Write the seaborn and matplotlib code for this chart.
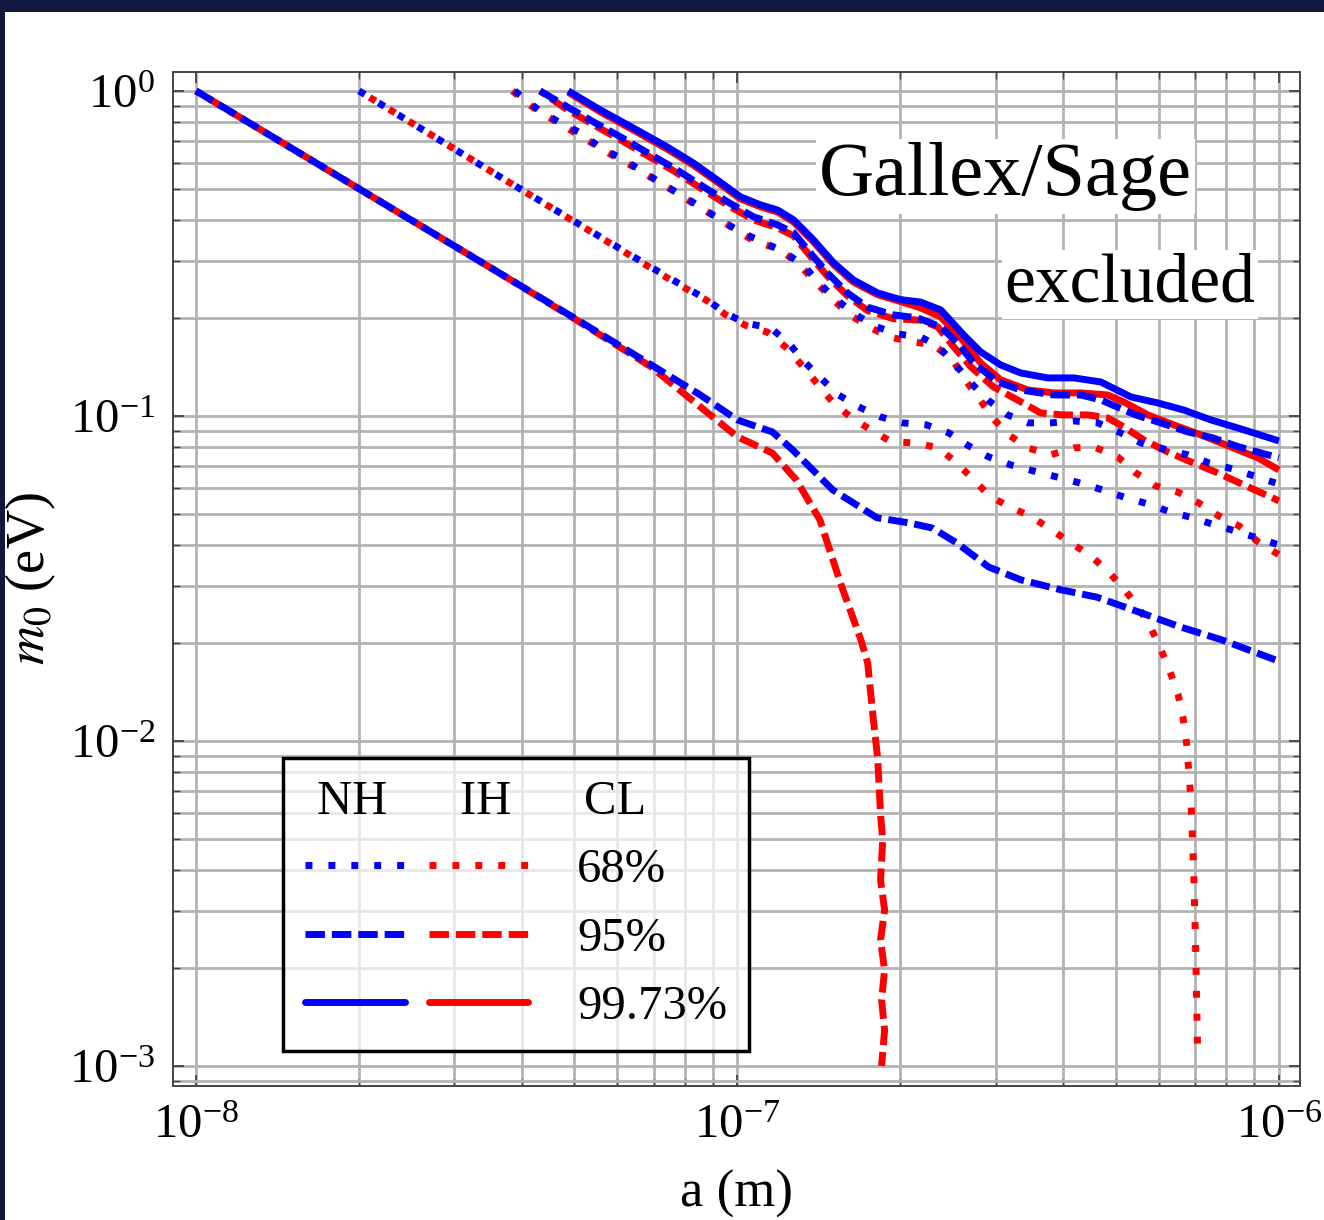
import numpy as np
import pandas as pd
import matplotlib
matplotlib.use("Agg")
import matplotlib.pyplot as plt
import seaborn as sns
from matplotlib.lines import Line2D
from matplotlib.legend_handler import HandlerTuple
from matplotlib.patches import Rectangle
from matplotlib.ticker import LogLocator, NullFormatter

# ---------------------------------------------------------------------------
# Exclusion contours: plate separation a (m) versus lightest neutrino mass m0 (eV)
# ---------------------------------------------------------------------------

# Lower branches
nh95_lo_a = [1.0e-8, 2.0e-8, 3.65e-8, 5.0e-8, 6.91e-8, 8.54e-8, 1.0e-7, 1.16e-7, 1.265e-7,
             1.50e-7, 1.81e-7, 2.07e-7, 2.29e-7, 2.54e-7, 2.91e-7, 3.34e-7, 3.95e-7,
             4.61e-7, 5.56e-7, 6.59e-7, 7.82e-7, 1.0e-6]
nh95_lo_m = [1.0, 0.5, 0.274, 0.2, 0.144, 0.116, 0.0972, 0.0893, 0.0786,
             0.0592, 0.0486, 0.0469, 0.0452, 0.0407, 0.0343, 0.0313, 0.0292,
             0.0277, 0.0248, 0.0224, 0.0205, 0.0176]

ih95_lo_a = [1.0e-8, 2.0e-8, 3.65e-8, 5.0e-8, 6.91e-8, 8.54e-8, 1.0e-7, 1.16e-7, 1.285e-7,
             1.42e-7, 1.55e-7, 1.69e-7, 1.74e-7, 1.78e-7, 1.815e-7, 1.84e-7, 1.855e-7,
             1.838e-7, 1.87e-7, 1.838e-7, 1.87e-7, 1.846e-7, 1.87e-7, 1.846e-7]
ih95_lo_m = [1.0, 0.5, 0.274, 0.199, 0.142, 0.1066, 0.0862, 0.0769, 0.0635,
             0.0479, 0.0306, 0.0205, 0.0174, 0.0119, 0.0089, 0.0058, 0.00496,
             0.00373, 0.00302, 0.00244, 0.00197, 0.0016, 0.00129, 0.001]

nh68_lo_a = [2.0e-8, 3.65e-8, 5.70e-8, 7.36e-8, 8.80e-8, 9.50e-8, 1.035e-7, 1.151e-7, 1.243e-7,
             1.33e-7, 1.424e-7, 1.537e-7, 1.674e-7, 1.838e-7, 2.018e-7, 2.236e-7, 2.455e-7,
             2.673e-7, 2.911e-7, 3.196e-7, 3.525e-7, 3.887e-7, 4.287e-7, 4.727e-7, 5.17e-7,
             5.73e-7, 6.29e-7, 6.93e-7, 7.61e-7, 8.40e-7, 9.26e-7, 1.0e-6]
nh68_lo_m = [1.0, 0.543, 0.348, 0.27, 0.2275, 0.207, 0.193, 0.1866, 0.1678,
             0.1466, 0.1309, 0.116, 0.1066, 0.0993, 0.0952, 0.0938, 0.0887,
             0.0809, 0.0748, 0.0707, 0.0677, 0.0649, 0.0622, 0.0592, 0.0563,
             0.0536, 0.0507, 0.0486, 0.0462, 0.044, 0.0418, 0.0401]

ih68_lo_a = [2.0e-8, 3.65e-8, 5.70e-8, 7.36e-8, 8.80e-8, 9.50e-8, 1.035e-7, 1.136e-7, 1.227e-7,
             1.319e-7, 1.40e-7, 1.498e-7, 1.618e-7, 1.762e-7, 1.926e-7, 2.133e-7, 2.352e-7,
             2.54e-7, 2.72e-7, 2.923e-7, 3.183e-7, 3.495e-7, 3.806e-7, 4.126e-7, 4.494e-7,
             4.85e-7, 5.17e-7, 5.51e-7, 5.80e-7, 6.05e-7, 6.29e-7, 6.51e-7, 6.65e-7,
             6.76e-7, 6.88e-7, 6.96e-7, 7.02e-7, 7.08e-7]
ih68_lo_m = [1.0, 0.543, 0.347, 0.268, 0.226, 0.205, 0.19, 0.181, 0.163,
             0.1425, 0.1263, 0.1104, 0.0993, 0.0906, 0.0832, 0.0826, 0.0797,
             0.0717, 0.064, 0.0567, 0.0525, 0.0489, 0.0446, 0.0407, 0.0371,
             0.0331, 0.0294, 0.0257, 0.0223, 0.0192, 0.0164, 0.01395, 0.01185,
             0.00972, 0.00658, 0.00401, 0.00228, 0.0011]

# Upper branches
nh68_up_a = [3.88e-8, 4.29e-8, 4.67e-8, 5.13e-8, 5.58e-8, 6.08e-8, 6.62e-8, 7.21e-8, 7.85e-8,
             8.54e-8, 9.30e-8, 1.013e-7, 1.113e-7, 1.216e-7, 1.324e-7, 1.412e-7, 1.518e-7,
             1.646e-7, 1.792e-7, 1.968e-7, 2.179e-7, 2.343e-7, 2.53e-7, 2.70e-7, 2.90e-7,
             3.156e-7, 3.44e-7, 3.79e-7, 4.18e-7, 4.63e-7, 5.10e-7, 5.56e-7, 6.13e-7,
             6.79e-7, 7.42e-7, 8.22e-7, 8.99e-7, 1.0e-6]
nh68_up_m = [1.0, 0.874, 0.803, 0.743, 0.668, 0.622, 0.571, 0.521, 0.479,
             0.44, 0.401, 0.368, 0.343, 0.32, 0.291, 0.257, 0.229,
             0.206, 0.189, 0.1788, 0.175, 0.1642, 0.1435, 0.1263, 0.112,
             0.1007, 0.0952, 0.0952, 0.0965, 0.0952, 0.0887, 0.0826, 0.0791,
             0.0759, 0.0717, 0.0687, 0.0654, 0.0617]

ih68_up_a = [3.84e-8, 4.18e-8, 4.57e-8, 4.98e-8, 5.46e-8, 5.95e-8, 6.48e-8, 7.05e-8, 7.68e-8,
             8.36e-8, 9.11e-8, 9.92e-8, 1.08e-7, 1.19e-7, 1.291e-7, 1.382e-7, 1.486e-7,
             1.597e-7, 1.739e-7, 1.902e-7, 2.107e-7, 2.303e-7, 2.50e-7, 2.617e-7, 2.79e-7,
             2.96e-7, 3.17e-7, 3.44e-7, 3.79e-7, 4.18e-7, 4.55e-7, 5.04e-7, 5.44e-7,
             5.92e-7, 6.51e-7, 7.11e-7, 7.75e-7, 8.44e-7, 9.15e-7, 1.0e-6]
ih68_up_m = [1.0, 0.893, 0.814, 0.748, 0.682, 0.626, 0.58, 0.532, 0.489,
             0.446, 0.41, 0.374, 0.343, 0.327, 0.296, 0.262, 0.232,
             0.207, 0.189, 0.175, 0.169, 0.1654, 0.1487, 0.1309, 0.1136,
             0.0986, 0.0874, 0.0797, 0.0759, 0.0797, 0.0803, 0.0748, 0.0668,
             0.0609, 0.0583, 0.054, 0.0492, 0.0459, 0.041, 0.0374]

nh95_up_a = [4.32e-8, 4.85e-8, 5.42e-8, 6.08e-8, 6.82e-8, 7.62e-8, 8.54e-8, 9.58e-8, 1.07e-7,
             1.186e-7, 1.27e-7, 1.364e-7, 1.467e-7, 1.597e-7, 1.739e-7, 1.943e-7, 2.15e-7,
             2.373e-7, 2.55e-7, 2.73e-7, 3.025e-7, 3.335e-7, 3.84e-7, 4.305e-7, 4.688e-7,
             5.44e-7, 6.05e-7, 6.79e-7, 7.55e-7, 8.44e-7, 1.0e-6]
nh95_up_m = [1.0, 0.893, 0.803, 0.722, 0.645, 0.58, 0.514, 0.456, 0.41,
             0.387, 0.366, 0.317, 0.275, 0.239, 0.216, 0.2046, 0.2003,
             0.188, 0.1678, 0.1456, 0.1272, 0.1202, 0.116, 0.116, 0.112,
             0.1007, 0.0952, 0.0893, 0.0856, 0.0803, 0.0743]

ih95_up_a = [4.32e-8, 4.85e-8, 5.42e-8, 6.08e-8, 6.82e-8, 7.62e-8, 8.54e-8, 9.58e-8, 1.07e-7,
             1.186e-7, 1.27e-7, 1.364e-7, 1.467e-7, 1.597e-7, 1.739e-7, 1.943e-7, 2.179e-7,
             2.343e-7, 2.51e-7, 2.70e-7, 2.97e-7, 3.29e-7, 3.632e-7, 4.0e-7, 4.44e-7,
             4.83e-7, 5.17e-7, 5.63e-7, 6.23e-7, 6.88e-7, 7.71e-7, 8.62e-7, 1.0e-6]
ih95_up_m = [1.0, 0.875, 0.787, 0.707, 0.632, 0.568, 0.503, 0.446, 0.401,
             0.379, 0.358, 0.31, 0.269, 0.234, 0.211, 0.199, 0.197,
             0.188, 0.163, 0.1415, 0.1228, 0.112, 0.1021, 0.1007, 0.1007,
             0.0986, 0.0925, 0.0844, 0.0775, 0.0722, 0.0668, 0.0613, 0.0548]

nh997_up_a = [4.87e-8, 5.58e-8, 6.42e-8, 7.42e-8, 8.29e-8, 9.18e-8, 1.013e-7, 1.103e-7, 1.186e-7,
              1.27e-7, 1.382e-7, 1.505e-7, 1.638e-7, 1.815e-7, 2.0e-7, 2.179e-7, 2.373e-7,
              2.44e-7, 2.617e-7, 2.813e-7, 3.063e-7, 3.335e-7, 3.74e-7, 4.18e-7, 4.688e-7,
              5.33e-7, 5.98e-7, 6.67e-7, 7.49e-7, 8.40e-7, 1.0e-6]
nh997_up_m = [1.0, 0.874, 0.769, 0.672, 0.6, 0.532, 0.472, 0.446, 0.43,
              0.401, 0.348, 0.296, 0.262, 0.239, 0.228, 0.224, 0.212,
              0.2017, 0.1775, 0.1574, 0.1435, 0.1356, 0.1309, 0.1309, 0.1272,
              0.1144, 0.1096, 0.1043, 0.0972, 0.0918, 0.0838]

ih997_up_a = [4.87e-8, 5.58e-8, 6.42e-8, 7.42e-8, 8.29e-8, 9.18e-8, 1.013e-7, 1.103e-7, 1.186e-7,
              1.27e-7, 1.382e-7, 1.505e-7, 1.638e-7, 1.815e-7, 2.0e-7, 2.179e-7, 2.373e-7,
              2.584e-7, 2.813e-7, 3.063e-7, 3.44e-7, 3.84e-7, 4.305e-7, 4.83e-7, 5.17e-7,
              5.73e-7, 6.40e-7, 7.18e-7, 8.15e-7, 9.15e-7, 1.0e-6]
ih997_up_m = [0.99, 0.862, 0.758, 0.662, 0.591, 0.524, 0.465, 0.44, 0.424,
              0.395, 0.343, 0.292, 0.258, 0.236, 0.225, 0.215, 0.2017,
              0.174, 0.1456, 0.1291, 0.1202, 0.1177, 0.1177, 0.116, 0.1104,
              0.1007, 0.0938, 0.0874, 0.0803, 0.0743, 0.0682]

legend_header = " NH      IH      CL"
cl_labels = ["68%", "95%", "99.73%"]
annotation_lines = ["Gallex/Sage", "excluded"]

# ---------------------------------------------------------------------------
BLUE = "#0000ff"
RED = "#ff0000"
LW = 5.0
DOT = (0, (1.0, 2.3))
DOT_SHIFT = (1.5, (1.0, 2.3))
DASH = (0, (2.8, 1.0))
DASH_SHIFT = (1.9, (2.8, 1.0))

sns.set_theme(style="ticks")
plt.rcParams["font.family"] = ["Liberation Serif", "DejaVu Serif"]
plt.rcParams["mathtext.fontset"] = "stix"
for key in ["text.color", "axes.labelcolor", "xtick.labelcolor", "ytick.labelcolor"]:
    plt.rcParams[key] = "black"

fig = plt.figure(figsize=(13.24, 12.2), dpi=100)
fig.patch.set_facecolor("white")
ax = fig.add_axes([173 / 1324, 134 / 1220, 1127 / 1324, 1014 / 1220])

# dark window border at the top and left
fig.patches.append(Rectangle((0, 1 - 12 / 1220), 1, 12 / 1220, transform=fig.transFigure,
                             facecolor="#141840", edgecolor="none", zorder=10))
fig.patches.append(Rectangle((0, 0), 5 / 1324, 1, transform=fig.transFigure,
                             facecolor="#141840", edgecolor="none", zorder=10))


def draw(a, m, color, ls, lw=LW, z=2):
    sns.lineplot(x=np.asarray(a), y=np.asarray(m), ax=ax, color=color, linestyle=ls,
                 linewidth=lw, sort=False, estimator=None, zorder=z,
                 dash_capstyle="butt", solid_capstyle="butt", solid_joinstyle="round")


# inverted hierarchy (drawn first, underneath)
draw(ih68_lo_a, ih68_lo_m, RED, DOT_SHIFT)
draw(ih95_lo_a, ih95_lo_m, RED, DASH_SHIFT)
draw(ih68_up_a, ih68_up_m, RED, DOT)
draw(ih95_up_a, ih95_up_m, RED, DASH_SHIFT)
draw(ih997_up_a, ih997_up_m, RED, "-")
# normal hierarchy
draw(nh68_lo_a, nh68_lo_m, BLUE, DOT, z=3)
draw(nh95_lo_a, nh95_lo_m, BLUE, DASH, z=3)
draw(nh68_up_a, nh68_up_m, BLUE, DOT, z=3)
draw(nh95_up_a, nh95_up_m, BLUE, DASH, z=3)
draw(nh997_up_a, nh997_up_m, BLUE, "-", z=3)

ax.set_xscale("log")
ax.set_yscale("log")
ax.set_xlim(9.07e-9, 1.094e-6)
ax.set_ylim(8.68e-4, 1.143)

ax.xaxis.set_major_locator(LogLocator(base=10, numticks=10))
ax.yaxis.set_major_locator(LogLocator(base=10, numticks=10))
ax.xaxis.set_minor_locator(LogLocator(base=10, subs=np.arange(2, 10), numticks=50))
ax.yaxis.set_minor_locator(LogLocator(base=10, subs=np.arange(2, 10), numticks=50))
ax.xaxis.set_minor_formatter(NullFormatter())
ax.yaxis.set_minor_formatter(NullFormatter())

ax.grid(True, which="both", color="#b3b3b3", linewidth=2.0)
ax.set_axisbelow(True)
for sp in ax.spines.values():
    sp.set_color("#444444")
    sp.set_linewidth(1.4)
ax.tick_params(which="both", direction="in", top=True, right=True, color="#444444")
ax.tick_params(which="major", length=8, width=1.3, labelsize=35, pad=13)
ax.tick_params(which="minor", length=5, width=1.0)

ax.set_xlabel("a (m)", fontsize=38, labelpad=16)
ax.set_ylabel("$m_0$ (eV)", fontsize=39, labelpad=8)

# excluded region annotation
ax.text(0.739, 0.897, annotation_lines[0], transform=ax.transAxes, ha="center", va="center",
        fontsize=55, zorder=4, bbox=dict(facecolor="white", edgecolor="none", pad=2))
ax.text(0.849, 0.790, annotation_lines[1], transform=ax.transAxes, ha="center", va="center",
        fontsize=50, zorder=4, bbox=dict(facecolor="white", edgecolor="none", pad=2))

# legend: NH / IH line pairs per confidence level
styles = [DOT, DASH, "-"]
h_nh = [Line2D([], [], color=BLUE, linestyle=s, linewidth=LW, dash_capstyle="butt") for s in styles]
h_ih = [Line2D([], [], color=RED, linestyle=s, linewidth=LW, dash_capstyle="butt") for s in styles]
leg = ax.legend(handles=[(h_nh[i], h_ih[i]) for i in range(3)], labels=cl_labels,
                handler_map={tuple: HandlerTuple(ndivide=None, pad=0.5)},
                loc="lower left", bbox_to_anchor=(0.0976, 0.0345), borderaxespad=0,
                fontsize=35, handlelength=4.6, handletextpad=1.0, borderpad=0.45,
                labelspacing=0.5, title=legend_header, title_fontsize=35,
                alignment="left", fancybox=False, frameon=True)
frame = leg.get_frame()
frame.set_alpha(None)
frame.set_facecolor((1, 1, 1, 0.7))
frame.set_edgecolor("black")
frame.set_linewidth(2.5)
leg.set_zorder(5)

fig.savefig("out.png", dpi=100)
